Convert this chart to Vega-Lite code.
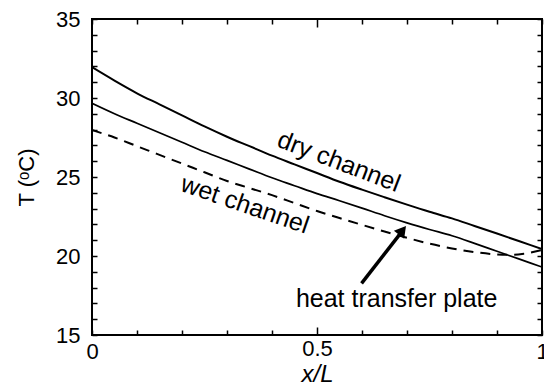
{
  "$schema": "https://vega.github.io/schema/vega-lite/v6.json",
  "width": 450,
  "height": 316,
  "autosize": {"type": "none"},
  "padding": {"left": 92, "top": 19, "right": 2, "bottom": 54},
  "config": {
    "view": {"stroke": "black", "strokeWidth": 2},
    "font": "Liberation Sans",
    "axis": {
      "domain": false,
      "grid": false,
      "tickColor": "black",
      "tickWidth": 1.5,
      "labelColor": "black",
      "labelFont": "Liberation Sans",
      "labelFontSize": 22,
      "titleColor": "black",
      "titleFont": "Liberation Sans",
      "titleFontSize": 22,
      "titleFontWeight": "normal"
    }
  },
  "datasets": {
    "curves": [
      {"series": "dry", "x": 0, "T": 31.95},
      {"series": "dry", "x": 0.05, "T": 31.1},
      {"series": "dry", "x": 0.1, "T": 30.3},
      {"series": "dry", "x": 0.15, "T": 29.6},
      {"series": "dry", "x": 0.2, "T": 28.9},
      {"series": "dry", "x": 0.25, "T": 28.2},
      {"series": "dry", "x": 0.3, "T": 27.55},
      {"series": "dry", "x": 0.35, "T": 26.95},
      {"series": "dry", "x": 0.4, "T": 26.35},
      {"series": "dry", "x": 0.45, "T": 25.8},
      {"series": "dry", "x": 0.5, "T": 25.25},
      {"series": "dry", "x": 0.55, "T": 24.7},
      {"series": "dry", "x": 0.6, "T": 24.2},
      {"series": "dry", "x": 0.65, "T": 23.72},
      {"series": "dry", "x": 0.7, "T": 23.25},
      {"series": "dry", "x": 0.75, "T": 22.8},
      {"series": "dry", "x": 0.8, "T": 22.38},
      {"series": "dry", "x": 0.85, "T": 21.9},
      {"series": "dry", "x": 0.9, "T": 21.42},
      {"series": "dry", "x": 0.95, "T": 20.93},
      {"series": "dry", "x": 1.0, "T": 20.44},
      {"series": "plate", "x": 0, "T": 29.66},
      {"series": "plate", "x": 0.05, "T": 29.0},
      {"series": "plate", "x": 0.1, "T": 28.4},
      {"series": "plate", "x": 0.15, "T": 27.8},
      {"series": "plate", "x": 0.2, "T": 27.2},
      {"series": "plate", "x": 0.25, "T": 26.6},
      {"series": "plate", "x": 0.3, "T": 26.05},
      {"series": "plate", "x": 0.35, "T": 25.5},
      {"series": "plate", "x": 0.4, "T": 24.95},
      {"series": "plate", "x": 0.45, "T": 24.45},
      {"series": "plate", "x": 0.5, "T": 23.95},
      {"series": "plate", "x": 0.55, "T": 23.5},
      {"series": "plate", "x": 0.6, "T": 23.03},
      {"series": "plate", "x": 0.65, "T": 22.55},
      {"series": "plate", "x": 0.7, "T": 22.1},
      {"series": "plate", "x": 0.75, "T": 21.68},
      {"series": "plate", "x": 0.8, "T": 21.28},
      {"series": "plate", "x": 0.85, "T": 20.8},
      {"series": "plate", "x": 0.9, "T": 20.3},
      {"series": "plate", "x": 0.95, "T": 19.8},
      {"series": "plate", "x": 1.0, "T": 19.3},
      {"series": "wet", "x": 0, "T": 27.97},
      {"series": "wet", "x": 0.05, "T": 27.5},
      {"series": "wet", "x": 0.1, "T": 26.95},
      {"series": "wet", "x": 0.15, "T": 26.4},
      {"series": "wet", "x": 0.2, "T": 25.85},
      {"series": "wet", "x": 0.25, "T": 25.3},
      {"series": "wet", "x": 0.3, "T": 24.75},
      {"series": "wet", "x": 0.35, "T": 24.3},
      {"series": "wet", "x": 0.4, "T": 23.85},
      {"series": "wet", "x": 0.45, "T": 23.35},
      {"series": "wet", "x": 0.5, "T": 22.85},
      {"series": "wet", "x": 0.55, "T": 22.4},
      {"series": "wet", "x": 0.6, "T": 21.97},
      {"series": "wet", "x": 0.65, "T": 21.55},
      {"series": "wet", "x": 0.7, "T": 21.15},
      {"series": "wet", "x": 0.75, "T": 20.78},
      {"series": "wet", "x": 0.8, "T": 20.48},
      {"series": "wet", "x": 0.85, "T": 20.25},
      {"series": "wet", "x": 0.9, "T": 20.1},
      {"series": "wet", "x": 0.93, "T": 20.07},
      {"series": "wet", "x": 0.96, "T": 20.15},
      {"series": "wet", "x": 1.0, "T": 20.38}
    ]
  },
  "layer": [
    {
      "data": {"name": "curves"},
      "transform": [{"filter": "datum.series == 'dry'"}],
      "mark": {"type": "line", "color": "black", "strokeWidth": 2, "interpolate": "monotone", "clip": true},
      "encoding": {
        "x": {
          "field": "x", "type": "quantitative",
          "scale": {"domain": [0, 1], "nice": false, "zero": false},
          "axis": {
            "orient": "bottom",
            "values": [0, 0.1, 0.2, 0.3, 0.4, 0.5, 0.6, 0.7, 0.8, 0.9, 1],
            "labelExpr": "datum.value == 0 ? '0' : datum.value == 0.5 ? '0.5' : datum.value == 1 ? '1' : ''",
            "tickSize": {"condition": {"test": "datum.value == 0.5", "value": -8}, "value": -5},
            "labelPadding": 11,
            "labelFlush": false,
            "labelOverlap": false,
            "title": "x/L",
            "titleFontStyle": "italic",
            "titleFontSize": 24,
            "titlePadding": 0
          }
        },
        "y": {
          "field": "T", "type": "quantitative",
          "scale": {"domain": [15, 35], "nice": false, "zero": false},
          "axis": {
            "orient": "left",
            "values": [15, 16, 17, 18, 19, 20, 21, 22, 23, 24, 25, 26, 27, 28, 29, 30, 31, 32, 33, 34, 35],
            "labelExpr": "datum.value % 5 == 0 ? datum.label : ''",
            "tickSize": -5,
            "labelPadding": 17,
            "labelFlush": false,
            "labelOverlap": false,
            "title": "T (ᵒC)",
            "titlePadding": 17
          }
        }
      }
    },
    {
      "data": {"name": "curves"},
      "transform": [{"filter": "datum.series == 'plate'"}],
      "mark": {"type": "line", "color": "black", "strokeWidth": 1.7, "interpolate": "monotone", "clip": true},
      "encoding": {
        "x": {
          "field": "x", "type": "quantitative",
          "axis": {
            "orient": "top",
            "values": [0, 0.1, 0.2, 0.3, 0.4, 0.5, 0.6, 0.7, 0.8, 0.9, 1],
            "labels": false,
            "tickSize": {"condition": {"test": "datum.value == 0.5", "value": -8}, "value": -5},
            "title": null
          }
        },
        "y": {
          "field": "T", "type": "quantitative",
          "axis": {
            "orient": "right",
            "values": [15, 16, 17, 18, 19, 20, 21, 22, 23, 24, 25, 26, 27, 28, 29, 30, 31, 32, 33, 34, 35],
            "labels": false,
            "tickSize": -5,
            "title": null
          }
        }
      }
    },
    {
      "data": {"name": "curves"},
      "transform": [{"filter": "datum.series == 'wet'"}],
      "mark": {"type": "line", "color": "black", "strokeWidth": 2, "strokeDash": [10, 7], "interpolate": "monotone", "clip": true},
      "encoding": {
        "x": {"field": "x", "type": "quantitative", "axis": null},
        "y": {"field": "T", "type": "quantitative", "axis": null}
      }
    },
    {
      "data": {"values": [{"x": 0.549, "T": 25.97, "label": "dry channel"}]},
      "mark": {"type": "text", "angle": 21, "align": "center", "baseline": "middle", "fontSize": 25, "font": "Liberation Sans", "color": "black"},
      "encoding": {
        "x": {"field": "x", "type": "quantitative", "axis": null},
        "y": {"field": "T", "type": "quantitative", "axis": null},
        "text": {"field": "label"}
      }
    },
    {
      "data": {"values": [{"x": 0.34, "T": 23.25, "label": "wet channel"}]},
      "mark": {"type": "text", "angle": 19, "align": "center", "baseline": "middle", "fontSize": 25, "font": "Liberation Sans", "color": "black"},
      "encoding": {
        "x": {"field": "x", "type": "quantitative", "axis": null},
        "y": {"field": "T", "type": "quantitative", "axis": null},
        "text": {"field": "label"}
      }
    },
    {
      "data": {"values": [{"x": 0.677, "T": 16.79, "label": "heat transfer plate"}]},
      "mark": {"type": "text", "align": "center", "baseline": "alphabetic", "fontSize": 25, "font": "Liberation Sans", "color": "black"},
      "encoding": {
        "x": {"field": "x", "type": "quantitative", "axis": null},
        "y": {"field": "T", "type": "quantitative", "axis": null},
        "text": {"field": "label"}
      }
    },
    {
      "data": {"values": [{"x": 0.599, "T": 18.27, "x2": 0.686, "T2": 21.45}]},
      "mark": {"type": "rule", "color": "black", "strokeWidth": 3.5},
      "encoding": {
        "x": {"field": "x", "type": "quantitative", "axis": null},
        "y": {"field": "T", "type": "quantitative", "axis": null},
        "x2": {"field": "x2"},
        "y2": {"field": "T2"}
      }
    },
    {
      "data": {"values": [{"x": 0.690, "T": 21.62}]},
      "mark": {"type": "point", "shape": "triangle-up", "angle": 38, "size": 170, "filled": true, "color": "black", "opacity": 1},
      "encoding": {
        "x": {"field": "x", "type": "quantitative", "axis": null},
        "y": {"field": "T", "type": "quantitative", "axis": null}
      }
    }
  ]
}
